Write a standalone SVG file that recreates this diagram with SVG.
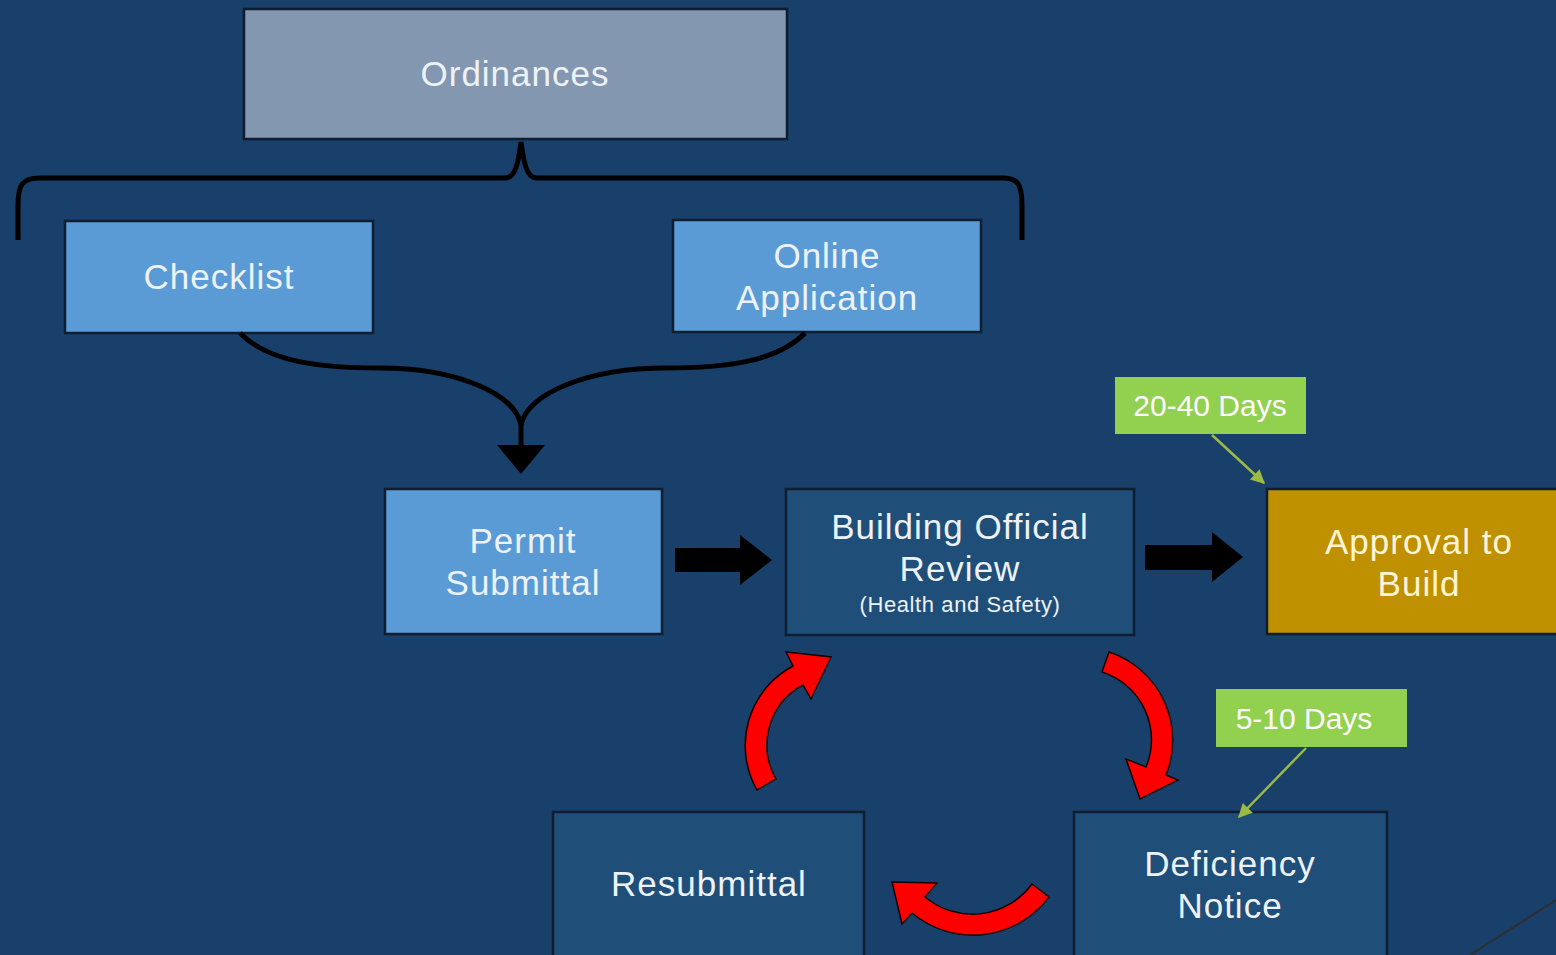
<svg xmlns="http://www.w3.org/2000/svg" width="1556" height="955" viewBox="0 0 1556 955">
<defs>
<style>
.box{stroke:#0E1E30;stroke-width:2.5}
.lt{fill:#5B9BD5}
.dk{fill:#1F4E79}
.t{font-family:"Liberation Sans",Arial,sans-serif;font-size:35px;letter-spacing:1px;fill:#EDF2F8;text-anchor:middle}
.s{font-size:22px;letter-spacing:0.6px}
.tag{fill:#92D050}
.tt{font-family:"Liberation Sans",Arial,sans-serif;font-size:30px;fill:#FFFFFF;text-anchor:middle}
.red{fill:#FF0000;stroke:#1A0000;stroke-width:1.5;stroke-linejoin:miter}
.blk{fill:#000000}
.wire{fill:none;stroke:#000000;stroke-width:5}
.gl{stroke:#9BBB44;stroke-width:2.5;fill:none}
</style>
<marker id="ga" viewBox="0 0 10 10" refX="9" refY="5" markerWidth="16" markerHeight="14" markerUnits="userSpaceOnUse" orient="auto">
<path d="M0,0 L10,5 L0,10 z" fill="#9BBB44"/>
</marker>
</defs>
<rect width="1556" height="955" fill="#193F6B"/>

<g id="ordinances">
<rect class="box" x="244" y="9" width="543" height="130" fill="#8497B0"/>
<text class="t" x="515" y="86">Ordinances</text>
</g>
<g id="checklist">
<rect class="box lt" x="65" y="221" width="308" height="112"/>
<text class="t" x="219" y="289">Checklist</text>
</g>
<g id="online-application">
<rect class="box lt" x="673" y="220" width="308" height="112"/>
<text class="t" x="827" y="268">Online</text>
<text class="t" x="827" y="310">Application</text>
</g>
<g id="permit-submittal">
<rect class="box lt" x="385" y="489" width="277" height="145"/>
<text class="t" x="523" y="553">Permit</text>
<text class="t" x="523" y="595">Submittal</text>
</g>
<g id="building-official-review">
<rect class="box dk" x="786" y="489" width="348" height="146"/>
<text class="t" x="960" y="539">Building Official</text>
<text class="t" x="960" y="581">Review</text>
<text class="t s" x="960" y="612">(Health and Safety)</text>
</g>
<g id="approval-to-build">
<rect class="box" x="1267" y="489" width="300" height="145" fill="#BF9000"/>
<text class="t" x="1419" y="554" style="fill:#FFF4D6">Approval to</text>
<text class="t" x="1419" y="596" style="fill:#FFF4D6">Build</text>
</g>
<g id="days-20-40">
<rect class="tag" x="1115" y="377" width="191" height="57"/>
<text class="tt" x="1210" y="416">20-40 Days</text>
</g>
<g id="days-5-10">
<rect class="tag" x="1216" y="689" width="191" height="58"/>
<text class="tt" x="1304" y="729">5-10 Days</text>
</g>
<g id="deficiency-notice">
<rect class="box dk" x="1074" y="812" width="313" height="160"/>
<text class="t" x="1230" y="876">Deficiency</text>
<text class="t" x="1230" y="918">Notice</text>
</g>
<g id="resubmittal">
<rect class="box dk" x="553" y="812" width="311" height="160"/>
<text class="t" x="709" y="896">Resubmittal</text>
</g>

<g id="connectors">
<path class="wire" d="M18,240 L18,205 C18,185 22,178 40,178 L505,178 C515,178 518,165 521,142 C524,165 527,178 537,178 L1003,178 C1018,178 1022,185 1022,205 L1022,240"/>
<path class="wire" d="M240,333 C268,362 320,368 380,368 C455,368 515,393 521,425 L521,448"/>
<path class="wire" d="M805,333 C777,362 725,368 665,368 C590,368 527,393 521,425"/>
<path class="blk" d="M497,445 L545,445 L521,474 Z"/>
<path class="blk" d="M675,548 L740,548 L740,535 L772,560 L740,585 L740,572 L675,572 Z"/>
<path class="blk" d="M1145,545 L1212,545 L1212,532 L1243,557 L1212,582 L1212,570 L1145,570 Z"/>
<path class="red" d="M757,790 A90,90 0 0 1 793,666 L786,652 L831,657 L811,699 L803,685 A68,68 0 0 0 776,779 Z"/>
<path class="red" d="M1109,652 A93,93 0 0 1 1166,775 L1178,780 L1140,799 L1126,759 L1146,767 A71,71 0 0 0 1102,672 Z"/>
<path class="red" d="M1049,897 A95,95 0 0 1 912,913 L902,924 L892,882 L937,883 L925,897 A74,74 0 0 0 1032,884 Z"/>
<line class="gl" x1="1212" y1="435" x2="1264" y2="483" marker-end="url(#ga)"/>
<line class="gl" x1="1306" y1="748" x2="1239" y2="817" marker-end="url(#ga)"/>
<line x1="1470" y1="955" x2="1556" y2="900" stroke="#2E2E2E" stroke-width="2"/>
</g>
</svg>
